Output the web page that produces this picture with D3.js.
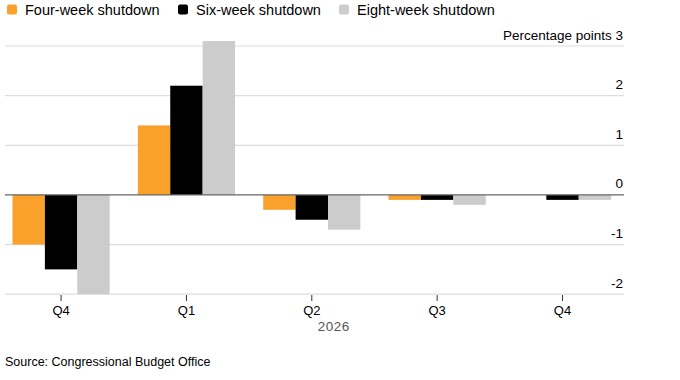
<!DOCTYPE html>
<html>
<head>
<meta charset="utf-8">
<script src="https://cdn.jsdelivr.net/npm/d3@7"></script>
<style>
  html, body { margin: 0; padding: 0; background: #fff; }
  svg { display: block; font-family: "Liberation Sans", Arial, sans-serif; }
</style>
</head>
<body>
<svg id="chart" width="680" height="380"></svg>
<script>
const categories = ["Q4a", "Q1", "Q2", "Q3", "Q4b"];
const categoryLabels = ["Q4", "Q1", "Q2", "Q3", "Q4"];
const seriesNames = ["Four-week shutdown", "Six-week shutdown", "Eight-week shutdown"];
const fourWeek = [-1.0, 1.4, -0.3, -0.1, 0.0];
const sixWeek = [-1.5, 2.2, -0.5, -0.1, -0.1];
const eightWeek = [-2.0, 3.1, -0.7, -0.2, -0.1];
const yTicks = [-2, -1, 0, 1, 2, 3];
const colors = ["#f9a12b", "#000000", "#cccccc"];

const svg = d3.select("#chart");
const seriesValues = [fourWeek, sixWeek, eightWeek];

const x = d3.scaleBand().domain(categories).range([-1.6, 625.2]).padding(0);
const xInner = d3.scaleBand().domain(seriesNames)
  .range([14.1, x.bandwidth() - 14.1]).padding(0);
const y = d3.scaleLinear().domain([-2, 3]).range([294.2, 46]);

const gridLeft = 5, gridRight = 624;

// gridlines
svg.append("g").selectAll("line").data(yTicks.filter(d => d !== 0)).join("line")
  .attr("x1", gridLeft).attr("x2", gridRight)
  .attr("y1", d => y(d)).attr("y2", d => y(d))
  .attr("stroke", "#dddddd").attr("stroke-width", 1.2);

// y labels
svg.append("g").selectAll("text").data(yTicks).join("text")
  .attr("x", 623).attr("y", d => y(d) - 6.5)
  .attr("text-anchor", "end").attr("font-size", 13.5).attr("fill", "#000")
  .text(d => d === 3 ? "Percentage points 3" : d3.format("d")(d).replace("−", "-"));

// bars
const groups = svg.append("g").selectAll("g").data(categories).join("g")
  .attr("transform", d => `translate(${x(d)},0)`);
groups.selectAll("rect")
  .data((c, i) => seriesNames.map((s, j) => ({ s, j, v: seriesValues[j][i] })))
  .join("rect")
  .attr("x", d => xInner(d.s))
  .attr("width", xInner.bandwidth())
  .attr("y", d => y(Math.max(0, d.v)))
  .attr("height", d => Math.abs(y(d.v) - y(0)))
  .attr("fill", d => colors[d.j]);

// zero line
svg.append("line").attr("x1", gridLeft).attr("x2", gridRight)
  .attr("y1", y(0)).attr("y2", y(0))
  .attr("stroke", "#666666").attr("stroke-width", 1.2);

// x axis ticks and labels
const xAxis = svg.append("g");
xAxis.selectAll("line").data(categories).join("line")
  .attr("x1", d => x(d) + x.bandwidth() / 2).attr("x2", d => x(d) + x.bandwidth() / 2)
  .attr("y1", 295).attr("y2", 301)
  .attr("stroke", "#333").attr("stroke-width", 1);
xAxis.selectAll("text").data(categories).join("text")
  .attr("x", d => x(d) + x.bandwidth() / 2).attr("y", 315)
  .attr("text-anchor", "middle").attr("font-size", 13).attr("fill", "#000")
  .text((d, i) => categoryLabels[i]);
svg.append("text").attr("x", x("Q2") + x.bandwidth() / 2 + 22).attr("y", 331)
  .attr("text-anchor", "middle").attr("font-size", 13.5).attr("fill", "#555")
  .attr("letter-spacing", 0.5)
  .text("2026");

// legend
const legendX = [7, 178, 339];
const legend = svg.append("g").selectAll("g").data(seriesNames).join("g")
  .attr("transform", (d, i) => `translate(${legendX[i]},0)`);
legend.append("rect").attr("x", 0).attr("y", 4.5).attr("width", 10).attr("height", 10)
  .attr("rx", 2).attr("fill", (d, i) => colors[i]);
legend.append("text").attr("x", 18).attr("y", 14.5)
  .attr("font-size", 14.5).attr("fill", "#000").text(d => d);

// source
svg.append("text").attr("x", 5).attr("y", 366).attr("font-size", 12.5).attr("fill", "#000")
  .text("Source: Congressional Budget Office");
</script>
</body>
</html>
